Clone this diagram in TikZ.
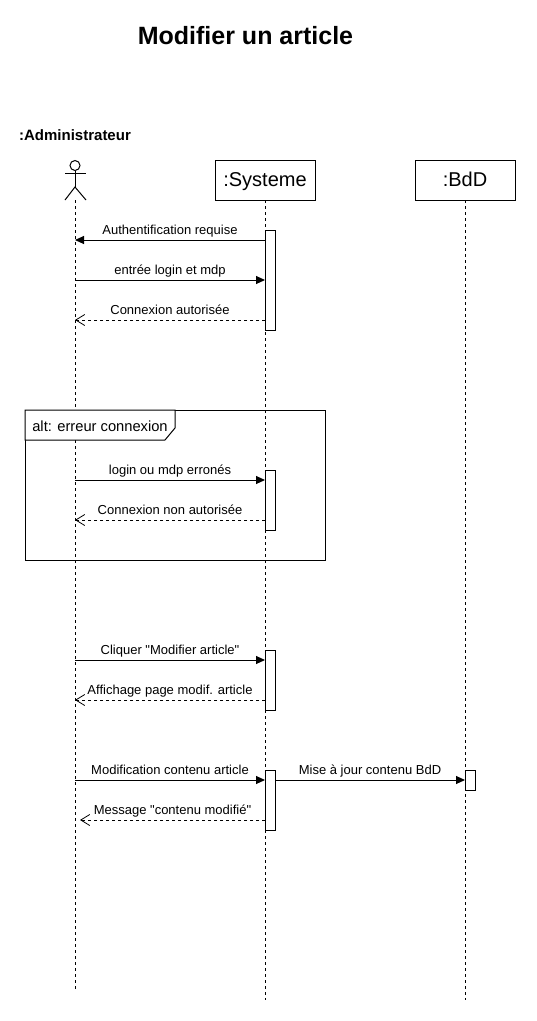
\documentclass[tikz,border=0pt]{standalone}
\usepackage{fontspec}
\setmainfont{Liberation Sans}[Ligatures=TeXOff]
\usetikzlibrary{calc,positioning,arrows.meta}

\tikzset{
	every node/.style={outer sep=0pt},
	obj/.style={draw,fill=white,minimum width=100pt,minimum height=40pt,inner sep=0pt,text height=14pt,text depth=1pt,font=\fontsize{20}{22}\selectfont},
	act/.style={draw,fill=white,minimum width=10pt,inner sep=0pt,anchor=north west},
	lifeline/.style={dash pattern=on 3pt off 3pt},
	call/.style={-{Triangle[length=9pt,width=8pt]}},
	reply/.style={dash pattern=on 3pt off 3pt,-{Straight Barb[length=9pt,width=11pt,line width=0.8pt]}},
	msg/.style={font=\fontsize{13}{15}\selectfont,text height=9pt,text depth=3pt,inner sep=0pt,above=2.5pt,midway},
}

\begin{document}
\begin{tikzpicture}[x=1pt,y=-1pt,line width=1pt,node distance=100pt]
	\useasboundingbox (0,0) rectangle (537,1021);
	\node[font=\bfseries\fontsize{25}{28}\selectfont] (title) at (245.5,36) {Modifier un article};
	\node[font=\bfseries\fontsize{15}{17}\selectfont] (admin_name) at (75,135) {:Administrateur};
	% actor
	\node[draw,circle,minimum size=10pt,inner sep=0pt] (admin) at (75,165.5) {};
	\coordinate (admin_hip) at (75,187);
	\coordinate (admin_base) at (75,200);
	\coordinate (admin_ground) at (75,990);
	\coordinate (arm_l) at (65,173);
	\coordinate (arm_r) at (86,173);
	\coordinate (leg_l) at (65,200);
	\coordinate (leg_r) at (86,200);
	\draw (admin) -- (admin_hip);
	\draw (arm_l) -- (arm_r);
	\draw (leg_l) -- (admin_hip) -- (leg_r);
	%
	\node[obj] (systeme) at (265,180) {:Systeme};
	\node[obj,right = of systeme] (bdd) {:BdD};
	\coordinate[below = 800pt of systeme.south] (systeme_ground);
	\coordinate[below = 800pt of bdd.south] (bdd_ground);
	%
	\draw[lifeline] (admin_base) -- (admin_ground);
	\draw[lifeline] (systeme) -- (systeme_ground);
	\draw[lifeline] (bdd) -- (bdd_ground);
	% alt frame
	\node[draw,minimum width=300pt,minimum height=150pt,inner sep=0pt,anchor=north west] (frame) at (25,410) {};
	\coordinate (tab_a) at (175,410);
	\coordinate (tab_b) at (175,428);
	\coordinate (tab_c) at (165,440);
	\coordinate (tab_d) at (25,440);
	\draw[fill=white] (frame.north west) -- (tab_a) -- (tab_b) -- (tab_c) -- (tab_d) -- cycle;
	\node[font=\fontsize{14.7}{17}\selectfont] (alt_label) at (100,426) {alt: erreur connexion};
	% activations
	\node[act,minimum height=100pt] (act_a) at (265,230) {};
	\node[act,minimum height=60pt] (act_b) at (265,470) {};
	\node[act,minimum height=60pt] (act_c) at (265,650) {};
	\node[act,minimum height=60pt] (act_d) at (265,770) {};
	\node[act,minimum height=20pt] (act_e) at (465,770) {};
	% messages
	\coordinate (m_a) at (0,240);
	\coordinate (m_b) at (0,280);
	\coordinate (m_c) at (0,320);
	\coordinate (m_d) at (0,480);
	\coordinate (m_e) at (0,520);
	\coordinate (m_f) at (0,660);
	\coordinate (m_g) at (0,700);
	\coordinate (m_h) at (0,780);
	\coordinate (m_i) at (0,820);
	\draw[call] (act_a.west |- m_a) -- node[msg]{Authentification requise} (admin |- m_a);
	\draw[call] (admin |- m_b) -- node[msg]{entrée login et mdp} (act_a.west |- m_b);
	\draw[reply] (act_a.west |- m_c) -- node[msg]{Connexion autorisée} (admin |- m_c);
	\draw[call] (admin |- m_d) -- node[msg]{login ou mdp erronés} (act_b.west |- m_d);
	\draw[reply] (act_b.west |- m_e) -- node[msg]{Connexion non autorisée} (admin |- m_e);
	\draw[call] (admin |- m_f) -- node[msg]{Cliquer "Modifier article"} (act_c.west |- m_f);
	\draw[reply] (act_c.west |- m_g) -- node[msg]{Affichage page modif. article} (admin |- m_g);
	\draw[call] (admin |- m_h) -- node[msg]{Modification contenu article} (act_d.west |- m_h);
	\draw[call] (act_d.east |- m_h) -- node[msg]{Mise à jour contenu BdD} (act_e.west |- m_h);
	\draw[reply] (act_d.west |- m_i) -- node[msg]{Message "contenu modifié"} ($(admin |- m_i)+(5,0)$);
\end{tikzpicture}
\end{document}
